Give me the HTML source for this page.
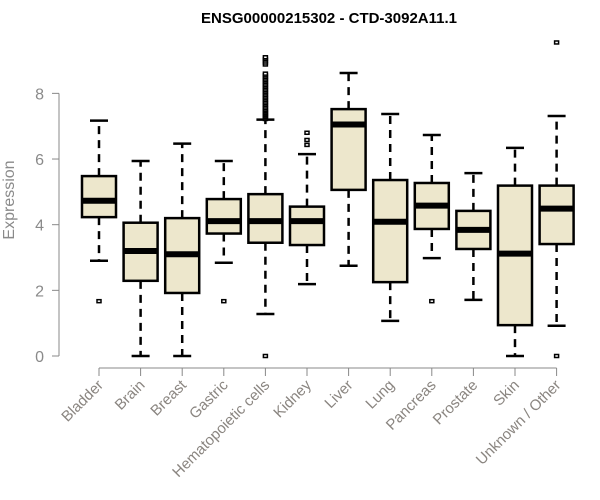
<!DOCTYPE html>
<html><head><meta charset="utf-8"><style>
body{margin:0;background:#fff;}
svg{display:block;font-family:"Liberation Sans",sans-serif;}
</style></head><body>
<svg id="chart" width="600" height="500">
<text x="329" y="23" text-anchor="middle" font-weight="bold" font-size="15">ENSG00000215302 - CTD-3092A11.1</text>
<text transform="translate(14,200) rotate(-90)" text-anchor="middle" font-size="16" fill="#8a8a8a">Expression</text>
<g id="axes"></g>
<g id="boxes"></g>
</svg>
<script>
const categories=["Bladder","Brain","Breast","Gastric","Hematopoietic cells","Kidney","Liver","Lung","Pancreas","Prostate","Skin","Unknown / Other"];
const lowerWhisker=[2.9,0,0,2.84,1.28,2.19,2.75,1.07,2.98,1.71,0,0.92];
const q1=[4.23,2.29,1.92,3.73,3.45,3.38,5.06,2.25,3.87,3.26,0.94,3.41];
const medians=[4.73,3.2,3.1,4.11,4.11,4.11,7.05,4.09,4.58,3.84,3.12,4.49];
const q3=[5.48,4.06,4.2,4.78,4.93,4.55,7.52,5.36,5.27,4.42,5.19,5.19];
const upperWhisker=[7.17,5.94,6.47,5.94,7.2,6.15,8.62,7.37,6.73,5.57,6.34,7.31];
const outliers=[[1.67],[],[],[1.67],[0,7.22,7.26,7.3,7.34,7.38,7.42,7.46,7.5,7.55,7.6,7.65,7.7,7.75,7.8,7.85,7.9,7.95,8.0,8.05,8.1,8.15,8.2,8.25,8.3,8.35,8.4,8.45,8.5,8.55,8.6,8.88,8.94,9.0,9.05,9.1],[6.43,6.58,6.8],[],[],[1.67],[],[],[0,9.55]];
const yTicks=[0,2,4,6,8];
const NS="http://www.w3.org/2000/svg";
const y=v=>356-v*32.83;
const x=i=>99+i*41.6;
function mk(p,t,a){const e=document.createElementNS(NS,t);for(const k in a)e.setAttribute(k,a[k]);p.appendChild(e);return e;}
const ax=document.getElementById('axes'),bx=document.getElementById('boxes');
const yl=mk(ax,'line',{x1:59,x2:59,y1:y(8),y2:y(0),stroke:'#888'});


yTicks.forEach(v=>{
  const t=mk(ax,'line',{x1:52,x2:59,y1:y(v),y2:y(v),stroke:'#888'});
  
  
  const l=mk(ax,'text',{x:44,y:y(v)+6,'text-anchor':'end','font-size':16,fill:'#8a8a8a'});
  l.textContent=v;
  
  
});
const xl=mk(ax,'line',{x1:x(0),x2:x(categories.length-1),y1:368,y2:368,stroke:'#888'});


categories.forEach((c,i)=>{
  const cx=x(i);
  const t=mk(ax,'line',{x1:cx,x2:cx,y1:368,y2:376,stroke:'#888'});
  
  
  const l=mk(ax,'text',{x:0,y:0,'text-anchor':'end','font-size':15,fill:'#8a8580',transform:`translate(${cx+5},${386}) rotate(-45)`});
  l.textContent=c;
  
  
  const g=mk(bx,'g',{});
  
  
  const dash={stroke:'#000','stroke-width':2.5,'stroke-dasharray':'8,6'};
  mk(g,'line',Object.assign({x1:cx,x2:cx,y1:y(q1[i]),y2:y(lowerWhisker[i])},dash));
  mk(g,'line',Object.assign({x1:cx,x2:cx,y1:y(q3[i]),y2:y(upperWhisker[i])},dash));
  mk(g,'line',{x1:cx-9,x2:cx+9,y1:y(lowerWhisker[i]),y2:y(lowerWhisker[i]),stroke:'#000','stroke-width':2.5});
  mk(g,'line',{x1:cx-9,x2:cx+9,y1:y(upperWhisker[i]),y2:y(upperWhisker[i]),stroke:'#000','stroke-width':2.5});
  mk(g,'rect',{x:cx-17,y:y(q3[i]),width:34,height:y(q1[i])-y(q3[i]),fill:'#ede7cc',stroke:'#000','stroke-width':2.5});
  mk(g,'line',{x1:cx-17,x2:cx+17,y1:y(medians[i]),y2:y(medians[i]),stroke:'#000','stroke-width':6});
  outliers[i].forEach(v=>{
    const o=mk(g,'rect',{x:cx-2,y:y(v)-1.5,width:4,height:3,fill:'#fff',stroke:'#000','stroke-width':1.5});
    
    
  });
});
</script>
</body></html>
